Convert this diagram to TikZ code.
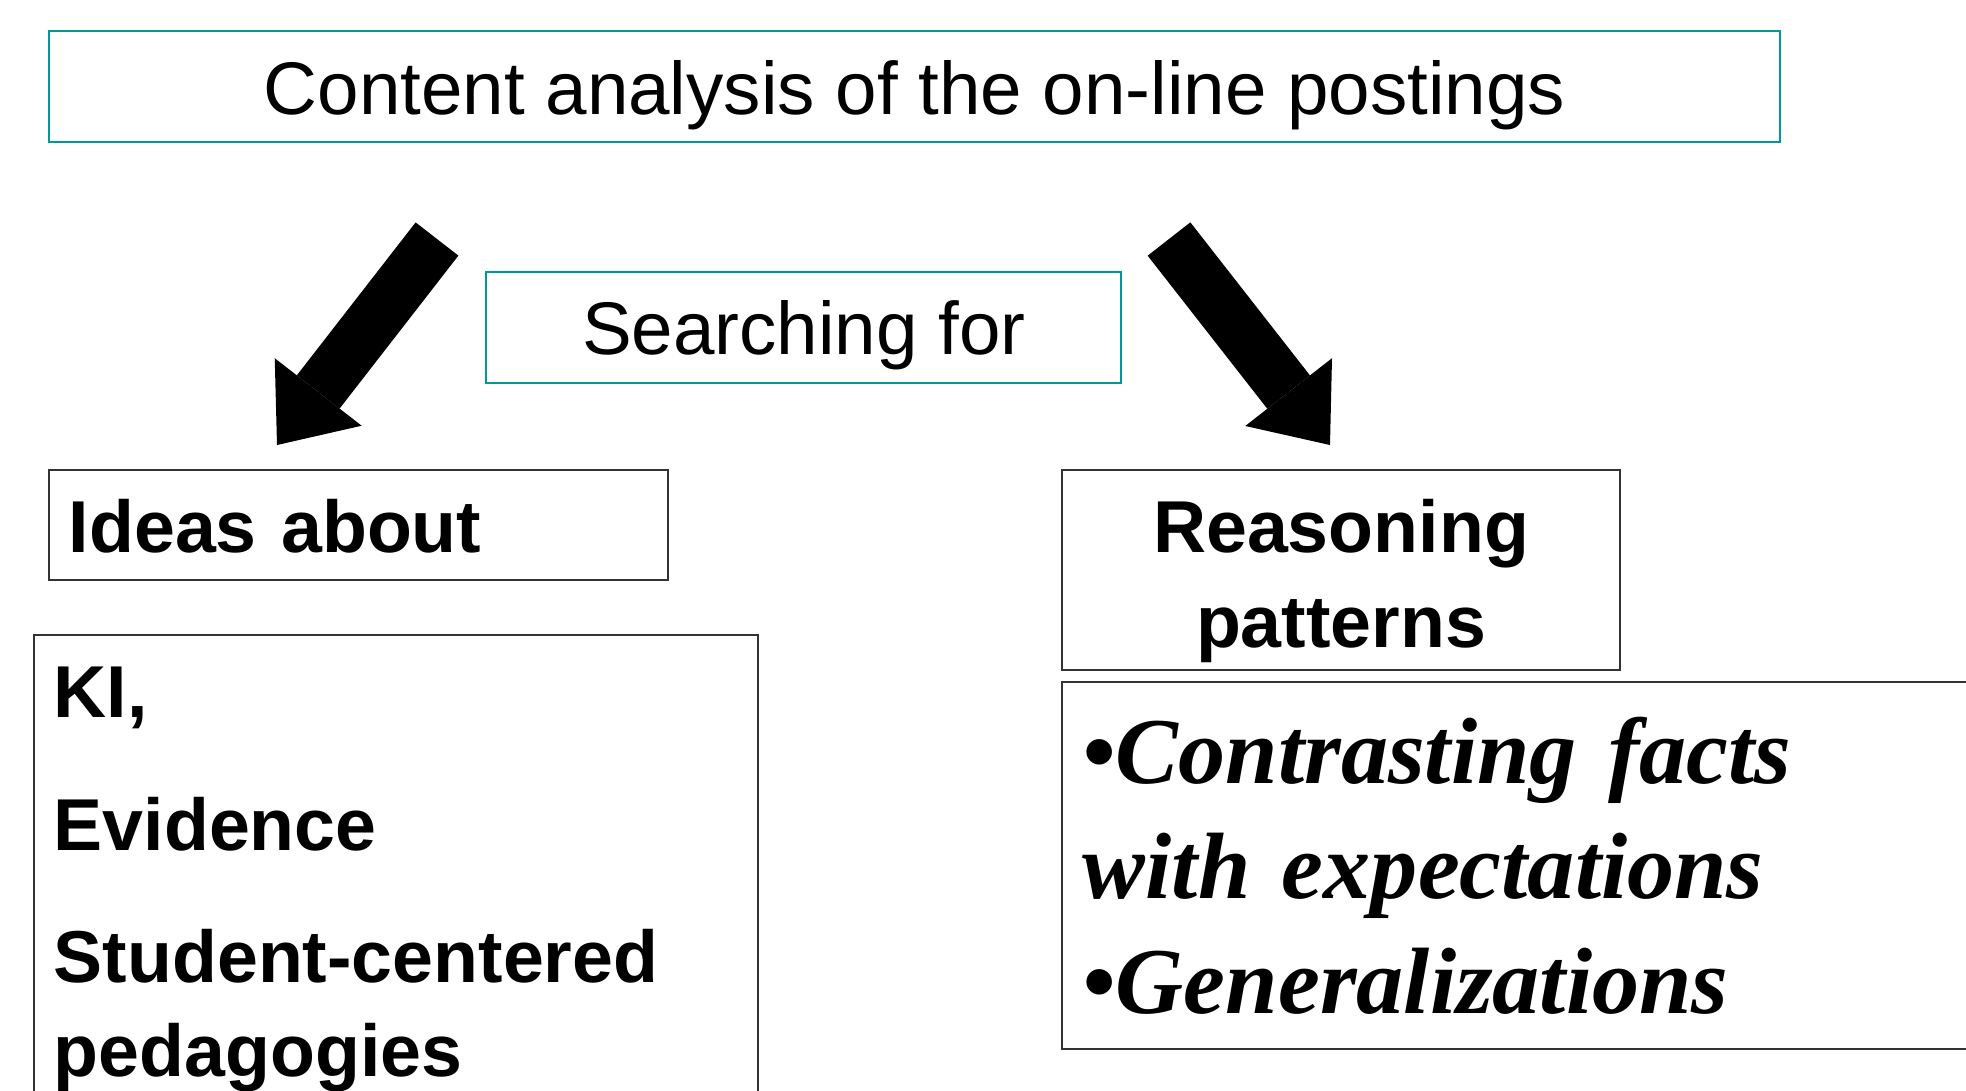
\documentclass[tikz,border=0pt]{standalone}
\usepackage{fontspec}
\setmainfont{Liberation Serif}
\setsansfont{Liberation Sans}
\usetikzlibrary{arrows.meta}
\definecolor{boxteal}{RGB}{0,153,153}
\tikzset{
  headbox/.style={draw=boxteal, line width=0.6pt, inner sep=0pt, anchor=north west,
    font=\sffamily\fontsize{21.2pt}{26.8pt}\selectfont},
  topicbox/.style={draw=black!80, line width=0.5pt, inner ysep=0pt, anchor=north west,
    font=\sffamily\bfseries\fontsize{20.9pt}{26.8pt}\selectfont},
  listbox/.style={draw=black!80, line width=0.5pt, inner ysep=0pt, anchor=north west,
    font=\rmfamily\bfseries\itshape\fontsize{26.8pt}{32.7pt}\selectfont},
  fatarrow/.style={line width=15.4pt, -{Triangle[line width=0pt, length=19.1pt, width=31.3pt]}}
}

\begin{document}
\begin{tikzpicture}[x=0.01cm, y=-0.01cm]
  \useasboundingbox (0,0) rectangle (1966,1090);
  \clip (0,0) rectangle (1966,1090);
  % Capcalera i caixa del mig
  \node[headbox, minimum width=17.3cm, text height=0.83cm, text depth=0.28cm] (title) at (48,30)
    {Content analysis of the on-line postings};
  \node[headbox, minimum width=6.35cm, text height=0.82cm, text depth=0.29cm] (search) at (485,271)
    {Searching for};
  % Fletxes gruixudes
  \coordinate (ltail) at (437,239);
  \coordinate (ltip) at (277,445);
  \coordinate (rtail) at (1169,239);
  \coordinate (rtip) at (1330,445);
  \draw[fatarrow] (ltail) -- (ltip);
  \draw[fatarrow] (rtail) -- (rtip);
  % Branca esquerra
  \node[topicbox, text width=5.79cm, inner xsep=0.20cm, align=left, text height=0.83cm, text depth=0.27cm] (ideas) at (48,469)
    {Ideas about};
  \node[topicbox, text width=6.84cm, inner xsep=0.20cm, align=left, text height=0.83cm, text depth=5cm] (ideaslist) at (33,634)
    {KI,\\[10.8pt] Evidence\\[10.8pt] Student-centered\\ pedagogies};
  % Branca dreta
  \node[topicbox, text width=5.58cm, inner xsep=0pt, align=center, text height=0.83cm, text depth=1.17cm] (reason) at (1061,469)
    {Reasoning\\ patterns};
  \node[listbox, text width=9.58cm, inner xsep=0.21cm, align=left, text height=1.02cm, text depth=2.65cm] (reasonlist) at (1061,681)
    {\fontdimen2\font=0.22em\textbullet Contrasting facts\\ with expectations\\ \textbullet Generalizations};
\end{tikzpicture}
\end{document}
